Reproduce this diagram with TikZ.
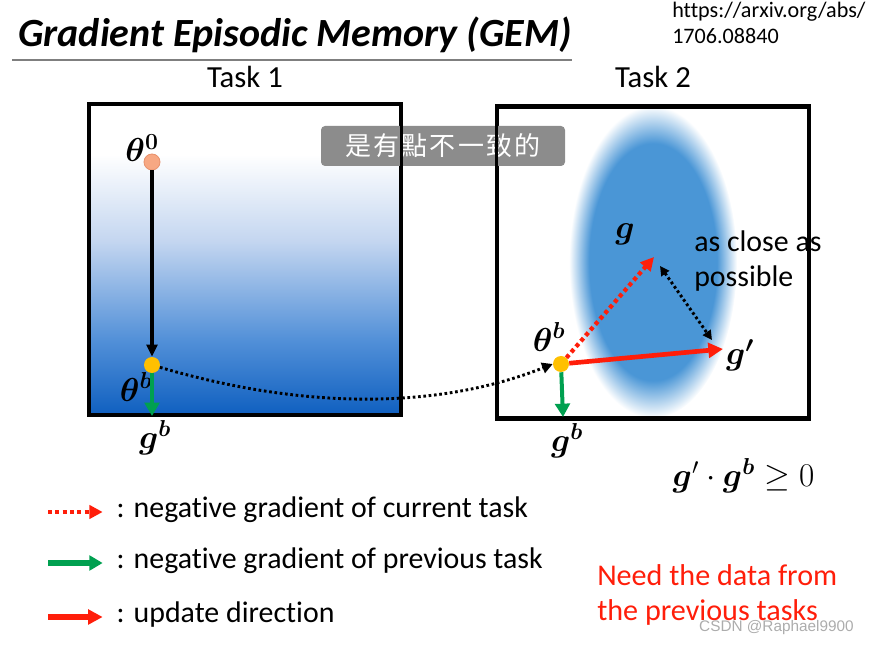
\documentclass[tikz,border=0pt]{standalone}
\usepackage{amsmath,bm}
\usepackage[no-math]{fontspec}
\setmainfont{Carlito}[Ligatures=NoCommon]
\newfontfamily\cjkfont[LetterSpace=8]{Noto Sans CJK TC}
\newfontfamily\markfont{Liberation Sans}
\usetikzlibrary{arrows.meta}
\usetikzlibrary{positioning}
\definecolor{GEM_blau_1}{HTML}{1060C0}
\definecolor{GEM_blau_2}{HTML}{5290D8}
\definecolor{GEM_blau_3}{HTML}{C4D6F0}
\definecolor{GEM_blau_4}{HTML}{4A96D6}
\definecolor{GEM_rot_1}{HTML}{FF1E0A}
\definecolor{GEM_gruen_1}{HTML}{00A050}
\definecolor{GEM_orange_1}{HTML}{F7A883}
\definecolor{GEM_orange_2}{HTML}{E8916C}
\definecolor{GEM_gelb_1}{HTML}{FFC000}
\definecolor{GEM_grau_1}{HTML}{8C8C8C}
\definecolor{GEM_grau_2}{HTML}{7F7F7F}
\pgfdeclareverticalshading{taskone}{100bp}{color(0bp)=(GEM_blau_1); color(25bp)=(GEM_blau_1); color(37bp)=(GEM_blau_2); color(53bp)=(GEM_blau_3); color(67bp)=(white); color(100bp)=(white)}
\pgfdeclareradialshading{blob}{\pgfpoint{0bp}{0bp}}{color(0bp)=(GEM_blau_4); color(19bp)=(GEM_blau_4); color(25bp)=(white); color(50bp)=(white)}

\begin{document}
\begin{tikzpicture}[x=0.75pt, y=-0.75pt,
  taskbox/.style={draw, line width=2.2pt, minimum width=232.5pt, minimum height=232pt, inner sep=0pt},
  dot/.style={circle, minimum size=12pt, inner sep=0pt},
  mathlabel/.style={font=\fontsize{24}{28}\selectfont},
  plain/.style={font=\fontsize{22.4}{26}\selectfont},
  blackarrow/.style={-{Triangle[length=9pt,width=8pt]}, line width=2.4pt},
  greenarrow/.style={-{Triangle[length=10pt,width=11pt]}, line width=3pt, GEM_gruen_1},
  redarrow/.style={-{Triangle[length=11pt,width=11pt]}, line width=3.5pt, GEM_rot_1},
  reddotted/.style={-{Triangle[length=10pt,width=10pt]}, line width=3.2pt, dash pattern=on 3pt off 2.5pt, GEM_rot_1},
  blackdotted/.style={line width=2.2pt, dash pattern=on 2pt off 2pt}]
\useasboundingbox (0,0) rectangle (869,645);
%\draw[step=50, very thin, red] (0,0) grid (869,645);

% title
\node[anchor=base west, inner sep=0pt, font=\bfseries\itshape\fontsize{30}{34}\selectfont] (title) at (18,47) {Gradient Episodic Memory (GEM)};
\draw[line width=1.5pt, GEM_grau_2] (title.base west) ++(-6,13) coordinate (titleline) -- ++(560,0);
\node[anchor=north west, align=left, inner sep=0pt, font=\fontsize{16.6}{19.5}\selectfont] (paperlink) at (672,2) {https://arxiv.org/abs/\\1706.08840};

% task 1
\node[taskbox, shading=taskone] (task1box) at (245,259.5) {};
\node[font=\fontsize{23}{27}\selectfont, above=8pt of task1box] (task1) {Task 1};
\node[dot, draw=GEM_orange_2, fill=GEM_orange_1, line width=0.6pt] (theta0dot) at (152,162) {};
\node[mathlabel] (theta0) at (142,148) {$\bm{\theta^{0}}$};
\node[dot, fill=GEM_gelb_1] (thetabdot1) at (152,365) {};
\node[mathlabel] (thetab1) at (136,387) {$\bm{\theta^{b}}$};
\node[mathlabel] (gb1) at (155,438) {$\bm{g^{b}}$};
\coordinate (gbtip1) at (152,416);

% task 2
\shade[shading=blob] (653,262) ellipse (84 and 156);
\node[taskbox, minimum height=233pt] (task2box) at (653,262.5) {};
\node[font=\fontsize{23}{27}\selectfont, above=10pt of task2box] (task2) {Task 2};
\node[dot, fill=GEM_gelb_1] (thetabdot2) at (561,364) {};
\node[mathlabel] (thetab2) at (549,337) {$\bm{\theta^{b}}$};
\node[mathlabel] (gb2) at (567,441) {$\bm{g^{b}}$};
\coordinate (gbtip2) at (563,417);
\node[mathlabel] (g) at (625,234) {$\bm{g}$};
\coordinate (gtip) at (654,257);
\node[mathlabel] (gprime) at (740,355) {$\bm{g'}$};
\coordinate (gprimetip) at (723,349);
\coordinate (closetop) at (660,266);
\coordinate (closebottom) at (712,340);
\node[anchor=west, align=left, inner sep=0pt, font=\fontsize{22.4}{26}\selectfont] (closeness) at (694,261) {as close as\\possible};
\node[mathlabel, anchor=west] (constraint) at (668,476) {$\bm{g}'\cdot\bm{g}^{\bm{b}}\geq 0$};

% subtitle over the slide
\node[fill=GEM_grau_1, rounded corners=3pt, minimum width=183pt, minimum height=30pt, text=white, font=\cjkfont\fontsize{19.5}{22}\selectfont] (subtitle) at (443,146) {是有點不一致的};
\draw[line width=2.2pt] (task1box.north west) rectangle (task1box.south east);
\draw[line width=2.2pt] (task2box.north west) rectangle (task2box.south east);

% arrows
\draw[blackarrow] (theta0dot) -- (thetabdot1);
\draw[greenarrow] (thetabdot1) -- (gbtip1);
\draw[blackdotted, -{Triangle[length=8pt,width=8pt]}] (thetabdot1) .. controls +(170,50) and +(-100,40) .. (thetabdot2.west);
\draw[greenarrow] (thetabdot2) -- (gbtip2);
\draw[reddotted] (thetabdot2) -- (gtip);
\draw[redarrow] (thetabdot2) -- (gprimetip);
\draw[blackdotted, {Triangle[length=7pt,width=7pt]}-{Triangle[length=7pt,width=7pt]}] (closetop) -- (closebottom);

% legend
\node[plain, anchor=west] (legendtext1) at (112,510) {: negative gradient of current task};
\node[plain, anchor=west] (legendtext2) at (112,561) {: negative gradient of previous task};
\node[plain, anchor=west] (legendtext3) at (112,615) {: update direction};
\coordinate (legend1) at (48,512);
\coordinate (legend2) at (48,563);
\coordinate (legend3) at (48,617);
\draw[reddotted, shorten >=7pt] (legend1) -- (legend1 -| legendtext1.west);
\draw[greenarrow, line width=4pt, shorten >=7pt] (legend2) -- (legend2 -| legendtext2.west);
\draw[redarrow, line width=4pt, shorten >=7pt] (legend3) -- (legend3 -| legendtext3.west);

\node[anchor=west, align=left, inner sep=0pt, text=GEM_rot_1, font=\fontsize{22.6}{26.5}\selectfont] (remark) at (597,595) {Need the data from\\the previous tasks};
\node[anchor=east, inner sep=0pt, text=gray!65, font=\markfont\fontsize{11.5}{13}\selectfont] (watermark) at (854,628) {CSDN @Raphael9900};
\end{tikzpicture}
\end{document}
